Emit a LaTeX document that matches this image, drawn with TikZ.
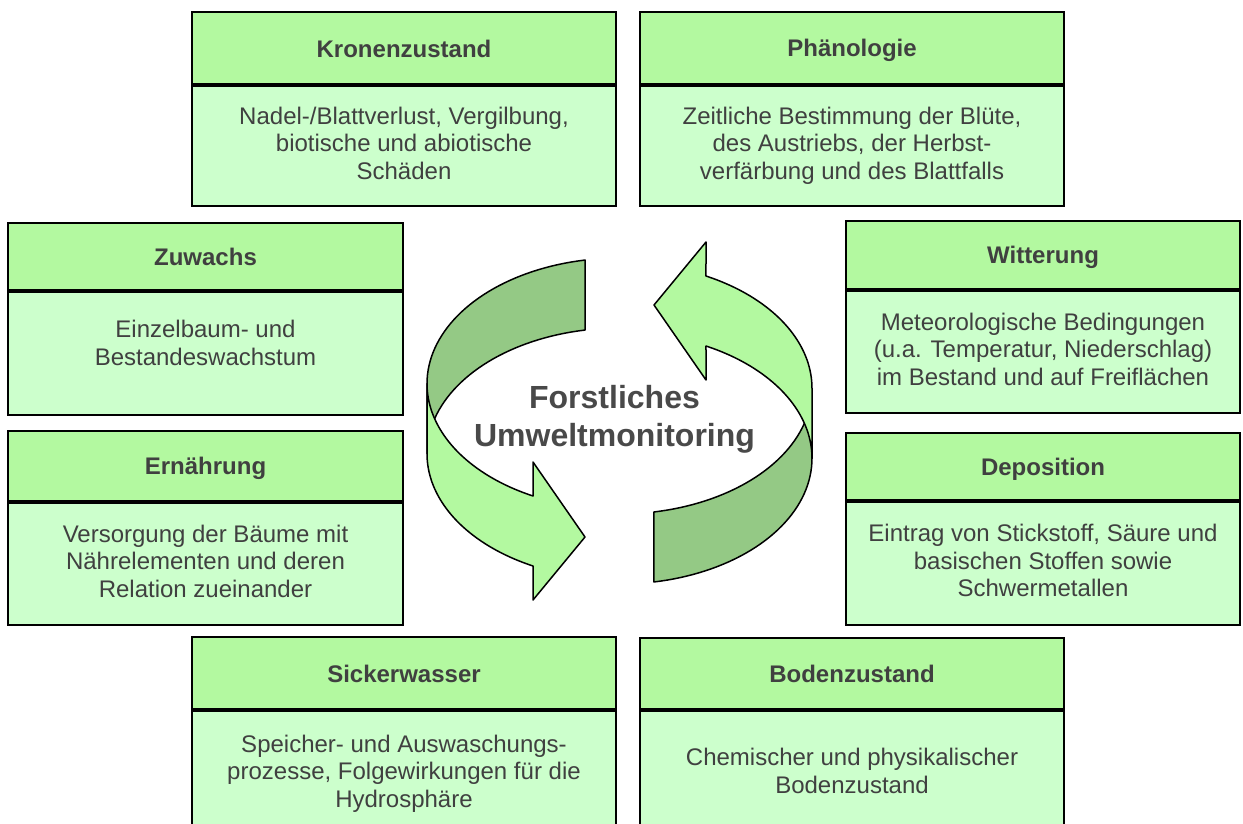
\documentclass[tikz,border=0pt]{standalone}
\usepackage{fontspec}
\setmainfont{Liberation Sans}
\usepackage{xcolor}
\definecolor{headgreen}{HTML}{B3F9A0}
\definecolor{bodygreen}{HTML}{CCFFCC}
\definecolor{darkleaf}{HTML}{94C985}
\definecolor{lightleaf}{HTML}{B3F9A0}
\definecolor{ink}{HTML}{404040}
\usetikzlibrary{positioning}
\newcommand{\linestrut}{\rule[-5.9pt]{0pt}{27.6pt}}
\newcommand{\headstrut}{\rule[-4.8pt]{0pt}{27.6pt}}

\begin{document}
\begin{tikzpicture}[
      x=1pt, y=-1pt,
      every node/.style={font=\fontsize{24}{27.6}\selectfont, text=ink},
      head/.style 2 args={
        draw=black, fill=headgreen, line width=2pt, inner sep=0pt,
        minimum width=#1, minimum height=#2,
        font=\fontsize{24}{27.6}\selectfont\bfseries,
        execute at begin node=\headstrut
      },
      body/.style 2 args={
        draw=black, fill=bodygreen, line width=2pt, inner sep=0pt,
        minimum width=#1, minimum height=#2, align=center,
        execute at begin node=\linestrut, execute at end node=\linestrut
      },
      leaf/.style={line width=1.5pt, line join=round},
      ribbon/.pic={
        % back side of the band
        \filldraw[leaf, fill=darkleaf]
          plot[domain=100.3:180, samples=40] ({192.5*cos(\x)}, {-37.3-125.7*sin(\x)})
          -- plot[domain=180:100.3, samples=40] ({192.5*cos(\x)}, {32.7-125.7*sin(\x)})
          -- cycle;
        % front side with the head
        \filldraw[leaf, fill=lightleaf]
          plot[domain=180:243.3, samples=40] ({192.5*cos(\x)}, {-37.3-125.7*sin(\x)})
          -- (-86.5,41) -- (-34.5,116) -- (-86.5,179)
          -- plot[domain=243.3:180, samples=40] ({192.5*cos(\x)}, {32.7-125.7*sin(\x)})
          -- cycle;
      },
    ]
      \useasboundingbox (0,0) rectangle (1243,823);
      \clip (0,0) rectangle (1243,823);

      \node[head={424}{72}] (kronen) at (404,48) {Kronenzustand};
      \node[body={424}{120}, below=0pt of kronen] (kronen-text)
        {Nadel-/Blattverlust, Vergilbung,\\biotische und abiotische\\Schäden};

      \node[head={424}{72}] (phaeno) at (852,48) {Phänologie};
      \node[body={424}{120}, below=0pt of phaeno] (phaeno-text)
        {Zeitliche Bestimmung der Blüte,\\des Austriebs, der Herbst-\\verfärbung und des Blattfalls};

      \node[head={395}{67}] (zuwachs) at (205.5,256.5) {Zuwachs};
      \node[body={395}{123}, text depth=22pt, below=0pt of zuwachs] (zuwachs-text)
        {Einzelbaum- und\\Bestandeswachstum};

      \node[head={394}{68}] (witterung) at (1043,255) {Witterung};
      \node[body={394}{122}, below=0pt of witterung] (witterung-text)
        {Meteorologische Bedingungen\\(u.a. Temperatur, Niederschlag)\\im Bestand und auf Freiflächen};

      \node[head={395}{70}] (ernaehrung) at (205.5,466) {Ernährung};
      \node[body={395}{122}, below=0pt of ernaehrung] (ernaehrung-text)
        {Versorgung der Bäume mit\\Nährelementen und deren\\Relation zueinander};

      \node[head={394}{67}] (deposition) at (1043,466.5) {Deposition};
      \node[body={394}{123}, below=0pt of deposition] (deposition-text)
        {Eintrag von Stickstoff, Säure und\\basischen Stoffen sowie\\Schwermetallen};

      \node[head={424}{72}] (sicker) at (404,673) {Sickerwasser};
      \node[body={424}{126}, below=0pt of sicker] (sicker-text)
        {Speicher- und Auswaschungs-\\prozesse, Folgewirkungen für die\\Hydrosphäre};

      \node[head={424}{71}] (boden) at (852,673.5) {Bodenzustand};
      \node[body={424}{126}, below=0pt of boden] (boden-text)
        {Chemischer und physikalischer\\Bodenzustand};

      % the two turning arrows
      \pic (leftleaf) at (619.5,421) {ribbon};
      \pic[rotate=180] (rightleaf) at (619.5,421) {ribbon};

      \node[font=\fontsize{32}{38}\selectfont\bfseries, text=ink!95, align=center]
        (title) at (614.5,419) {Forstliches\\Umweltmonitoring};
    \end{tikzpicture}
\end{document}
